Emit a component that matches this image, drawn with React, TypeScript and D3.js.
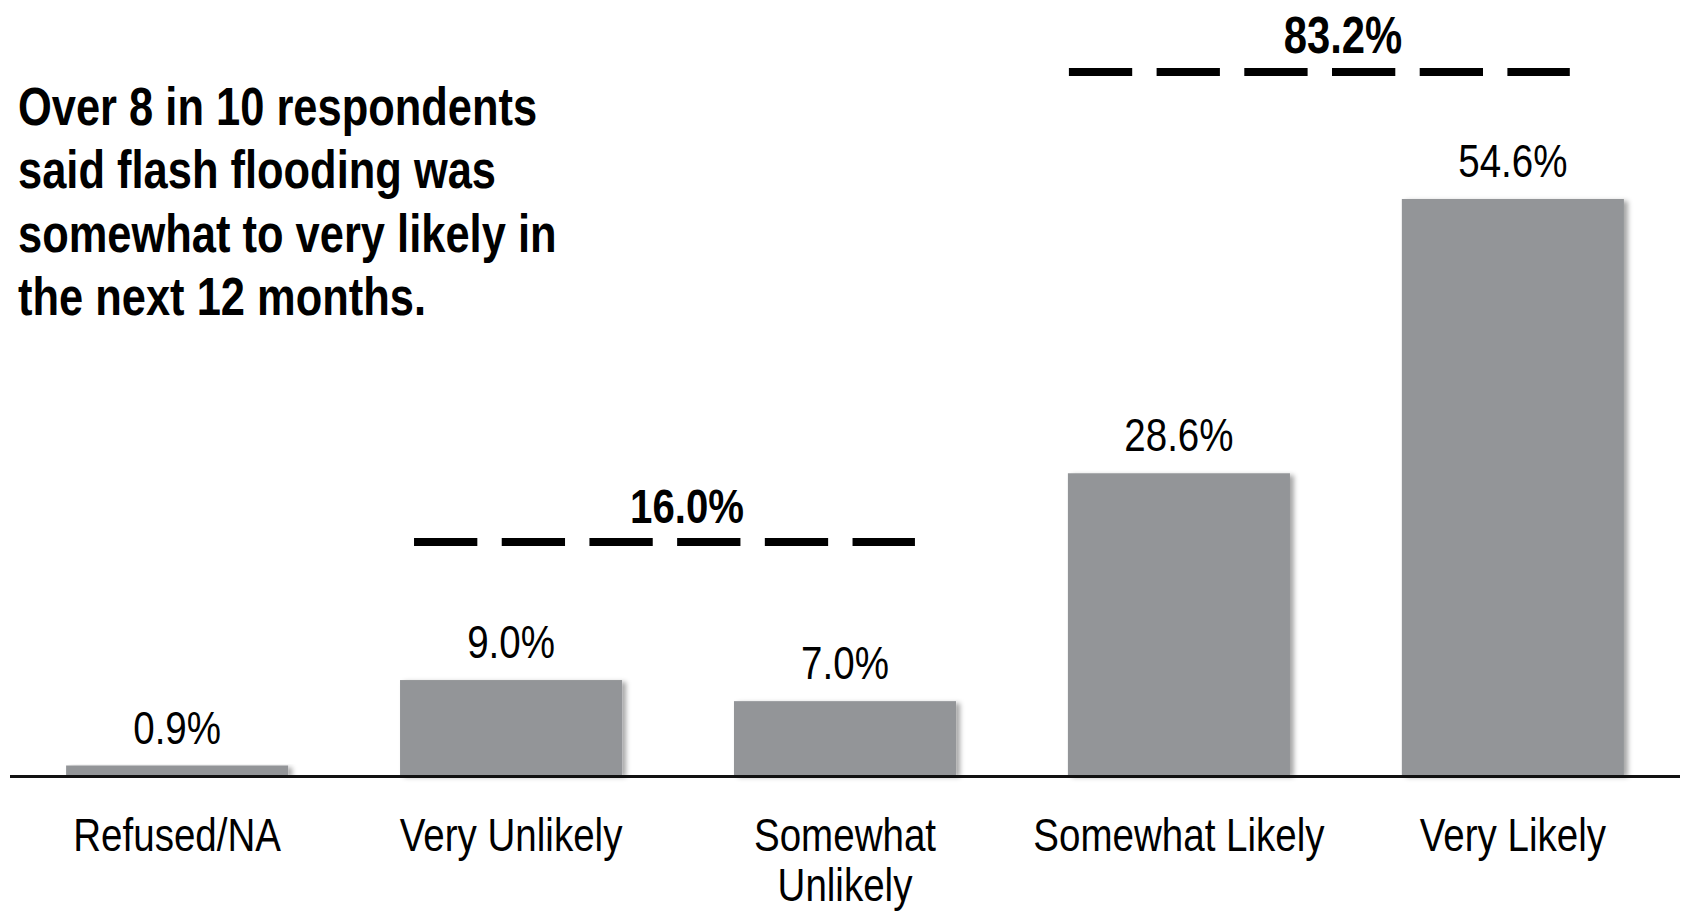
import React, { useRef, useEffect } from "react";
import * as d3 from "d3";

// chart data
const categories = ["Refused/NA", "Very Unlikely", "Somewhat Unlikely", "Somewhat Likely", "Very Likely"];
const categoryLines = [["Refused/NA"], ["Very Unlikely"], ["Somewhat", "Unlikely"], ["Somewhat Likely"], ["Very Likely"]];
const percents = [0.9, 9.0, 7.0, 28.6, 54.6];
const groupFirst = ["Very Unlikely", "Somewhat Likely"];
const groupLast = ["Somewhat Unlikely", "Very Likely"];
const groupTotals = [16.0, 83.2];
const titleLines = [
  "Over 8 in 10 respondents",
  "said flash flooding was",
  "somewhat to very likely in",
  "the next 12 months.",
];

// no narrow font installed, so squeeze Liberation Sans like Arial Narrow
const FONT = "'Liberation Sans', Arial, sans-serif";
const NARROW = 0.82;

const App = () => {
  const svgRef = useRef<SVGSVGElement>(null);

  useEffect(() => {
    const width = 1685;
    const height = 913;
    const baseline = 775;

    const svg = d3.select(svgRef.current).attr("width", width).attr("height", height);
    svg.selectAll("*").remove();

    function narrowText(parent, px, py, str, size, anchor = "middle", weight = "normal") {
      parent.append("g")
        .attr("transform", `translate(${px},${py}) scale(${NARROW},1)`)
        .append("text")
        .attr("text-anchor", anchor)
        .attr("font-family", FONT)
        .attr("font-size", size)
        .attr("font-weight", weight)
        .attr("fill", "#000")
        .text(str);
    }

    const defs = svg.append("defs");
    const shadow = defs.append("filter").attr("id", "barShadow")
      .attr("x", "-10%").attr("y", "-10%").attr("width", "130%").attr("height", "130%");
    shadow.append("feDropShadow")
      .attr("dx", 4).attr("dy", 2).attr("stdDeviation", 2.5)
      .attr("flood-color", "#000").attr("flood-opacity", 0.35);

    const x = d3.scaleBand<string>()
      .domain(categories)
      .range([10, 1680])
      .paddingInner(0.335)
      .paddingOuter(0.168);

    const y = d3.scaleLinear().domain([0, 60]).range([baseline, baseline - 633]);

    const data = categories.map((c, i) => ({ cat: c, value: percents[i], lines: categoryLines[i] }));

    // bars
    svg.append("g").selectAll("rect")
      .data(data)
      .enter()
      .append("rect")
      .attr("x", d => x(d.cat)!)
      .attr("y", d => y(d.value))
      .attr("width", x.bandwidth())
      .attr("height", d => baseline - y(d.value))
      .attr("fill", "#939598")
      .attr("filter", "url(#barShadow)");

    // axis line
    svg.append("line")
      .attr("x1", x.range()[0]).attr("x2", x.range()[1])
      .attr("y1", baseline + 1.5).attr("y2", baseline + 1.5)
      .attr("stroke", "#111").attr("stroke-width", 3);

    const labels = svg.append("g");
    data.forEach(d => {
      const cx = x(d.cat)! + x.bandwidth() / 2;
      // value label
      narrowText(labels, cx, y(d.value) - 22, d.value.toFixed(1) + "%", 47);
      // category label
      d.lines.forEach((line, i) => {
        narrowText(labels, cx, 851 + i * 50, line, 47);
      });
    });

    // group totals with dashed brackets
    const dashLen = x.step() * 1.5;
    const startOffsets = [14, 1];
    const labelOffsets = [9, -3];
    const dashY = [542, 72];
    groupTotals.forEach((total, i) => {
      const x0 = x(groupFirst[i])! + startOffsets[i];
      const mid = (x(groupFirst[i])! + x(groupLast[i])! + x.bandwidth()) / 2;
      svg.append("line")
        .attr("x1", x0).attr("x2", x0 + dashLen)
        .attr("y1", dashY[i]).attr("y2", dashY[i])
        .attr("stroke", "#000").attr("stroke-width", 8)
        .attr("stroke-dasharray", "63.3 24.4");
      narrowText(svg, mid + labelOffsets[i], dashY[i] - 19, total.toFixed(1) + "%", i === 0 ? 49 : 51, "middle", "bold");
    });

    // headline
    titleLines.forEach((line, i) => {
      narrowText(svg, 18, 125 + i * 63.4, line, 53, "start", "bold");
    });
  }, []);

  return (
    <svg ref={svgRef} style={{ position: "absolute", left: 0, top: 0, display: "block" }}></svg>
  );
};

export default App;
